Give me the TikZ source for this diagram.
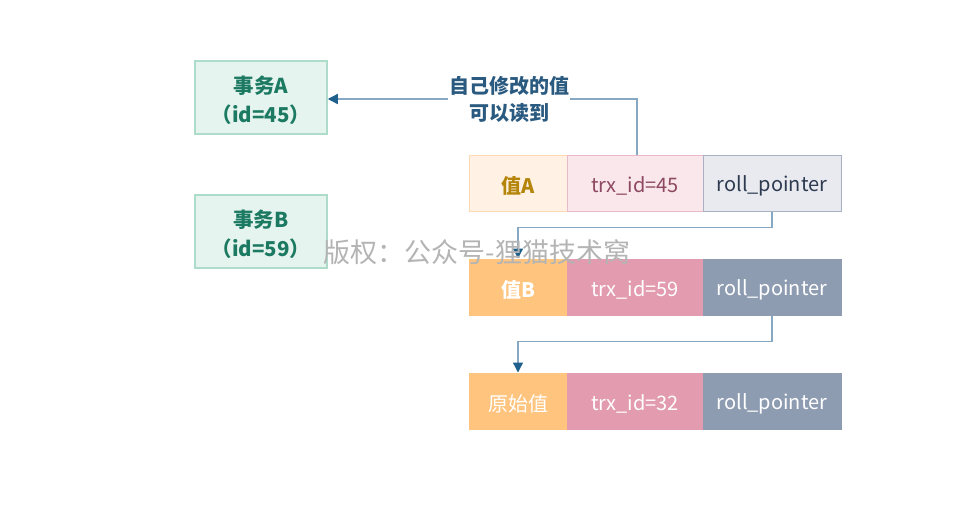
\documentclass[tikz,border=0pt]{standalone}
\usepackage{fontspec}
\setmainfont{Noto Sans CJK SC}
\usetikzlibrary{arrows.meta}
\definecolor{txbg}{HTML}{E6F4EF}
\definecolor{txbd}{HTML}{AEDCCB}
\definecolor{txfg}{HTML}{1D7A62}
\definecolor{oL}{HTML}{FFF1E3}
\definecolor{oLb}{HTML}{FFD9B2}
\definecolor{pL}{HTML}{F9E7EC}
\definecolor{pLb}{HTML}{EBBACA}
\definecolor{gL}{HTML}{E8EAEF}
\definecolor{gLb}{HTML}{A7B1C2}
\definecolor{oD}{HTML}{FFC47E}
\definecolor{pD}{HTML}{E29BAF}
\definecolor{gD}{HTML}{8E9CB2}
\definecolor{linec}{HTML}{86A8C2}
\definecolor{headc}{HTML}{1F5F8B}
\definecolor{lblc}{HTML}{2A5A80}
\definecolor{wm}{HTML}{B4B4B4}
\definecolor{goldt}{HTML}{B5850B}
\definecolor{marT}{HTML}{8E4862}
\definecolor{navT}{HTML}{2D3A50}
\tikzset{
  txbox/.style={draw=txbd, fill=txbg, line width=1.5pt, minimum width=132pt, minimum height=73pt, inner sep=0pt, align=center, text=txfg, font=\fontsize{20.5}{29}\selectfont\bfseries},
  cell/.style={line width=1pt, minimum height=56pt, inner sep=0pt, font=\fontsize{20}{22}\selectfont},
  c1/.style={cell, minimum width=98pt},
  c2/.style={cell, minimum width=136pt},
  c3/.style={cell, minimum width=138pt},
  conn/.style={draw=linec, line width=1.3pt, -{Triangle[length=10pt,width=10pt,fill=headc,color=headc]}},
}
\newcommand{\dn}[1]{\raisebox{-2.5pt}[\height][\depth]{#1}}
\begin{document}
\begin{tikzpicture}[x=1pt,y=-1pt]
\useasboundingbox[fill=white] (0,0) rectangle (966,504);
\node[txbox] (ta) at (261,97.5) {\dn{事务A}\\\dn{（id=45）}};
\node[txbox] (tb) at (261,231.5) {\dn{事务B}\\\dn{（id=59）}};
% row 1
\node[c1, draw=oLb, fill=oL, text=goldt] (a1) at (518,183) {\dn{\bfseries 值A}};
\node[c2, draw=pLb, fill=pL, text=marT] (a2) at (635,183) {\dn{trx\_id=45}};
\node[c3, draw=gLb, fill=gL, text=navT] (a3) at (772,183) {\dn{roll\_pointer}};
% row 2
\node[c1, draw=oD, fill=oD, text=white] (b1) at (518,287) {\dn{\bfseries 值B}};
\node[c2, draw=pD, fill=pD, text=white] (b2) at (635,287) {\dn{trx\_id=59}};
\node[c3, draw=gD, fill=gD, text=white] (b3) at (772,287) {\dn{roll\_pointer}};
% row 3
\node[c1, draw=oD, fill=oD, text=white] (c1n) at (518,401) {\dn{原始值}};
\node[c2, draw=pD, fill=pD, text=white] (c2n) at (635,401) {\dn{trx\_id=32}};
\node[c3, draw=gD, fill=gD, text=white] (c3n) at (772,401) {\dn{roll\_pointer}};
% connectors
\coordinate (k1) at (637,99);
\draw[conn] (a2.north -| k1) -- (k1) -- (ta.east |- k1);
\node[fill=white, inner sep=1pt, align=center, text=lblc, font=\fontsize{20}{27}\selectfont\bfseries] (lbl) at (509,99) {自己修改的值\\可以读到};
\draw[conn] (a3.south) -- ++(0,16) -| (b1.north);
\draw[conn] (b3.south) -- ++(0,26) -| (c1n.north);
% watermark
\node[text=wm, font=\fontsize{27}{29}\selectfont, inner sep=0pt] (wmk) at (477,252) {版权：公众号-狸猫技术窝};
\end{tikzpicture}
\end{document}
